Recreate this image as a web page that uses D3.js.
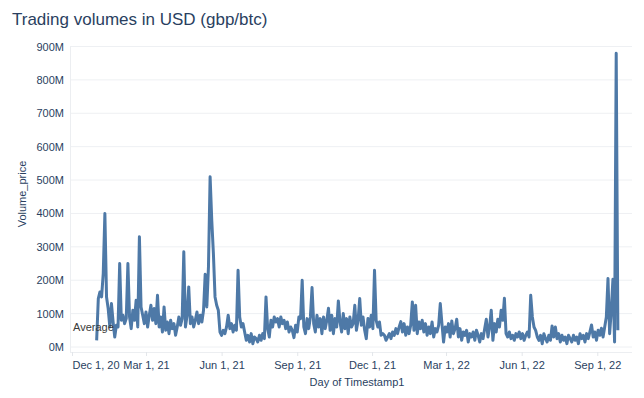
<!DOCTYPE html>
<html>
<head>
<meta charset="utf-8">
<script src="https://cdn.jsdelivr.net/npm/d3@7"></script>
<style>
  html, body { margin: 0; padding: 0; background: #ffffff; }
  svg { display: block; font-family: "Liberation Sans", Arial, sans-serif; }
</style>
</head>
<body>
<svg id="chart" width="644" height="398"></svg>
<script>
// ---- data ----
const chartTitle = "Trading volumes in USD (gbp/btc)";
const seriesStart = "2020-12-31";   // first daily sample shown
const sampleStepDays = 2;           // one reading every 2 days
const volumeM = [
  20, 145, 165, 150, 220, 400, 150, 115, 60, 130,
  75, 30, 65, 60, 250, 80, 95, 70, 85, 250,
  90, 55, 110, 80, 140, 60, 330, 120, 95, 70,
  105, 60, 95, 125, 80, 115, 70, 155, 60, 90,
  45, 120, 50, 75, 40, 80, 55, 70, 35, 60,
  90, 65, 85, 285, 60, 95, 180, 70, 90, 60,
  80, 105, 70, 95, 75, 110, 218, 120, 240, 510,
  380, 280, 150, 125, 110, 45, 35, 50, 40, 60,
  95, 55, 70, 45, 65, 50, 230, 90, 60, 70,
  45, 20, 35, 15, 40, 10, 30, 25, 15, 35,
  20, 40, 25, 150, 55, 30, 80, 60, 90, 75,
  85, 60, 90, 70, 80, 55, 75, 45, 60, 50,
  28, 65, 45, 90, 85, 200, 60, 40, 85, 55,
  90, 178, 70, 45, 95, 60, 85, 40, 90, 55,
  80, 116, 50, 95, 40, 85, 60, 138, 75, 45,
  100, 55, 85, 40, 90, 60, 70, 125, 50, 80,
  145, 65, 90, 50, 25, 85, 60, 95, 55, 230,
  80, 60, 75, 35, 40, 35, 20, 30, 40,
  25, 45, 35, 55, 40, 60, 76, 45, 70, 35,
  60, 40, 65, 135, 50, 125, 40, 75, 55, 80,
  45, 70, 35, 60, 40, 75, 30, 55, 45, 65,
  130, 70, 15, 60, 45, 70, 30, 78, 40, 55,
  83, 30, 55, 20, 45, 35, 50, 15, 40, 30,
  45, 20, 50, 35, 15, 40, 25, 55, 83, 30,
  60, 110, 20, 70, 45, 83, 60, 110, 80, 146,
  40, 30, 45, 25, 35, 20, 40, 30, 45, 25,
  40, 20, 35, 45, 30, 155, 90, 60, 50, 30,
  20, 35, 10, 40, 25, 15, 35, 20, 63, 30,
  60, 25, 40, 15, 35, 20, 30, 10, 35, 25,
  15, 35, 20, 30, 10, 40, 25, 35, 15, 40,
  25, 45, 66, 30, 45, 20, 50, 35, 56, 30,
  60, 90, 205, 40, 110, 203, 15, 880, 50
];
const yTicksM = [0, 100, 200, 300, 400, 500, 600, 700, 800, 900];
const xTickDates = ["2020-12-01", "2021-03-01", "2021-06-01", "2021-09-01",
                    "2021-12-01", "2022-03-01", "2022-06-01", "2022-09-01"];
const referenceLabel = "Average";
const xAxisTitle = "Day of Timestamp1";
const yAxisTitle = "Volume_price";

// ---- build ----
const parse = d3.timeParse("%Y-%m-%d");
const start = parse(seriesStart);
const data = volumeM.map((v, i) => ({ date: d3.timeDay.offset(start, i * sampleStepDays), value: v * 1e6 }));

const svg = d3.select("#chart");
const plot = { left: 70, right: 632, top: 46.5, zeroY: 347, bottom: 352 };

const x = d3.scaleTime()
  .domain([parse("2020-12-01"), parse("2022-09-01")])
  .range([72, 597.3]);
const y = d3.scaleLinear()
  .domain([0, 900e6])
  .range([plot.zeroY, plot.top]);

const textColor = "#2a3f5f";

// title
svg.append("text")
  .attr("x", 12).attr("y", 25)
  .attr("font-size", 17)
  .attr("fill", textColor)
  .text(chartTitle);

// gridlines
const grid = svg.append("g");
grid.selectAll("line").data(yTicksM).join("line")
  .attr("x1", plot.left).attr("x2", plot.right)
  .attr("y1", d => y(d * 1e6)).attr("y2", d => y(d * 1e6))
  .attr("stroke", "#eef0f3").attr("stroke-width", 1);

// left and bottom axis lines
svg.append("line")
  .attr("x1", plot.left + 0.5).attr("x2", plot.left + 0.5)
  .attr("y1", plot.top).attr("y2", plot.bottom)
  .attr("stroke", "#eceef1");
svg.append("line")
  .attr("x1", plot.left).attr("x2", plot.right)
  .attr("y1", plot.bottom + 0.5).attr("y2", plot.bottom + 0.5)
  .attr("stroke", "#eceef1");

// y axis via d3 axis
const yAxis = d3.axisLeft(y)
  .tickValues(yTicksM.map(d => d * 1e6))
  .tickFormat(d => (d / 1e6) + "M")
  .tickSize(0).tickPadding(6);
const yg = svg.append("g").attr("transform", `translate(${plot.left},0)`).call(yAxis);
yg.select(".domain").remove();
yg.selectAll("text").attr("font-size", 11).attr("fill", textColor)
  .attr("font-family", "Liberation Sans, Arial, sans-serif");

// x axis via d3 axis
const xAxis = d3.axisBottom(x)
  .tickValues(xTickDates.map(parse))
  .tickFormat(d3.timeFormat("%b %-d, %y"))
  .tickSize(4).tickPadding(5);
const xg = svg.append("g").attr("transform", `translate(0,${plot.bottom})`).call(xAxis);
xg.select(".domain").remove();
xg.selectAll(".tick line").attr("stroke", "#e3e6ea");
xg.selectAll("text").attr("font-size", 11).attr("fill", textColor)
  .attr("font-family", "Liberation Sans, Arial, sans-serif");
xg.selectAll(".tick").filter((d, i) => i === 0).select("text").attr("text-anchor", "start");

// line
const line = d3.line()
  .x(d => x(d.date))
  .y(d => y(d.value))
  .curve(d3.curveLinear);
svg.append("path")
  .datum(data)
  .attr("fill", "none")
  .attr("stroke", "#4e79a7")
  .attr("stroke-width", 3)
  .attr("stroke-linejoin", "round")
  .attr("d", line);

// reference line label
svg.append("text")
  .attr("x", 73).attr("y", 331)
  .attr("font-size", 11)
  .attr("fill", "#3a3a3a")
  .text(referenceLabel);

// axis titles
svg.append("text")
  .attr("x", (plot.left + plot.right) / 2 + 6).attr("y", 386)
  .attr("text-anchor", "middle")
  .attr("font-size", 11)
  .attr("fill", textColor)
  .text(xAxisTitle);
svg.append("text")
  .attr("transform", "translate(26,194) rotate(-90)")
  .attr("text-anchor", "middle")
  .attr("font-size", 11)
  .attr("fill", textColor)
  .text(yAxisTitle);
</script>
</body>
</html>
